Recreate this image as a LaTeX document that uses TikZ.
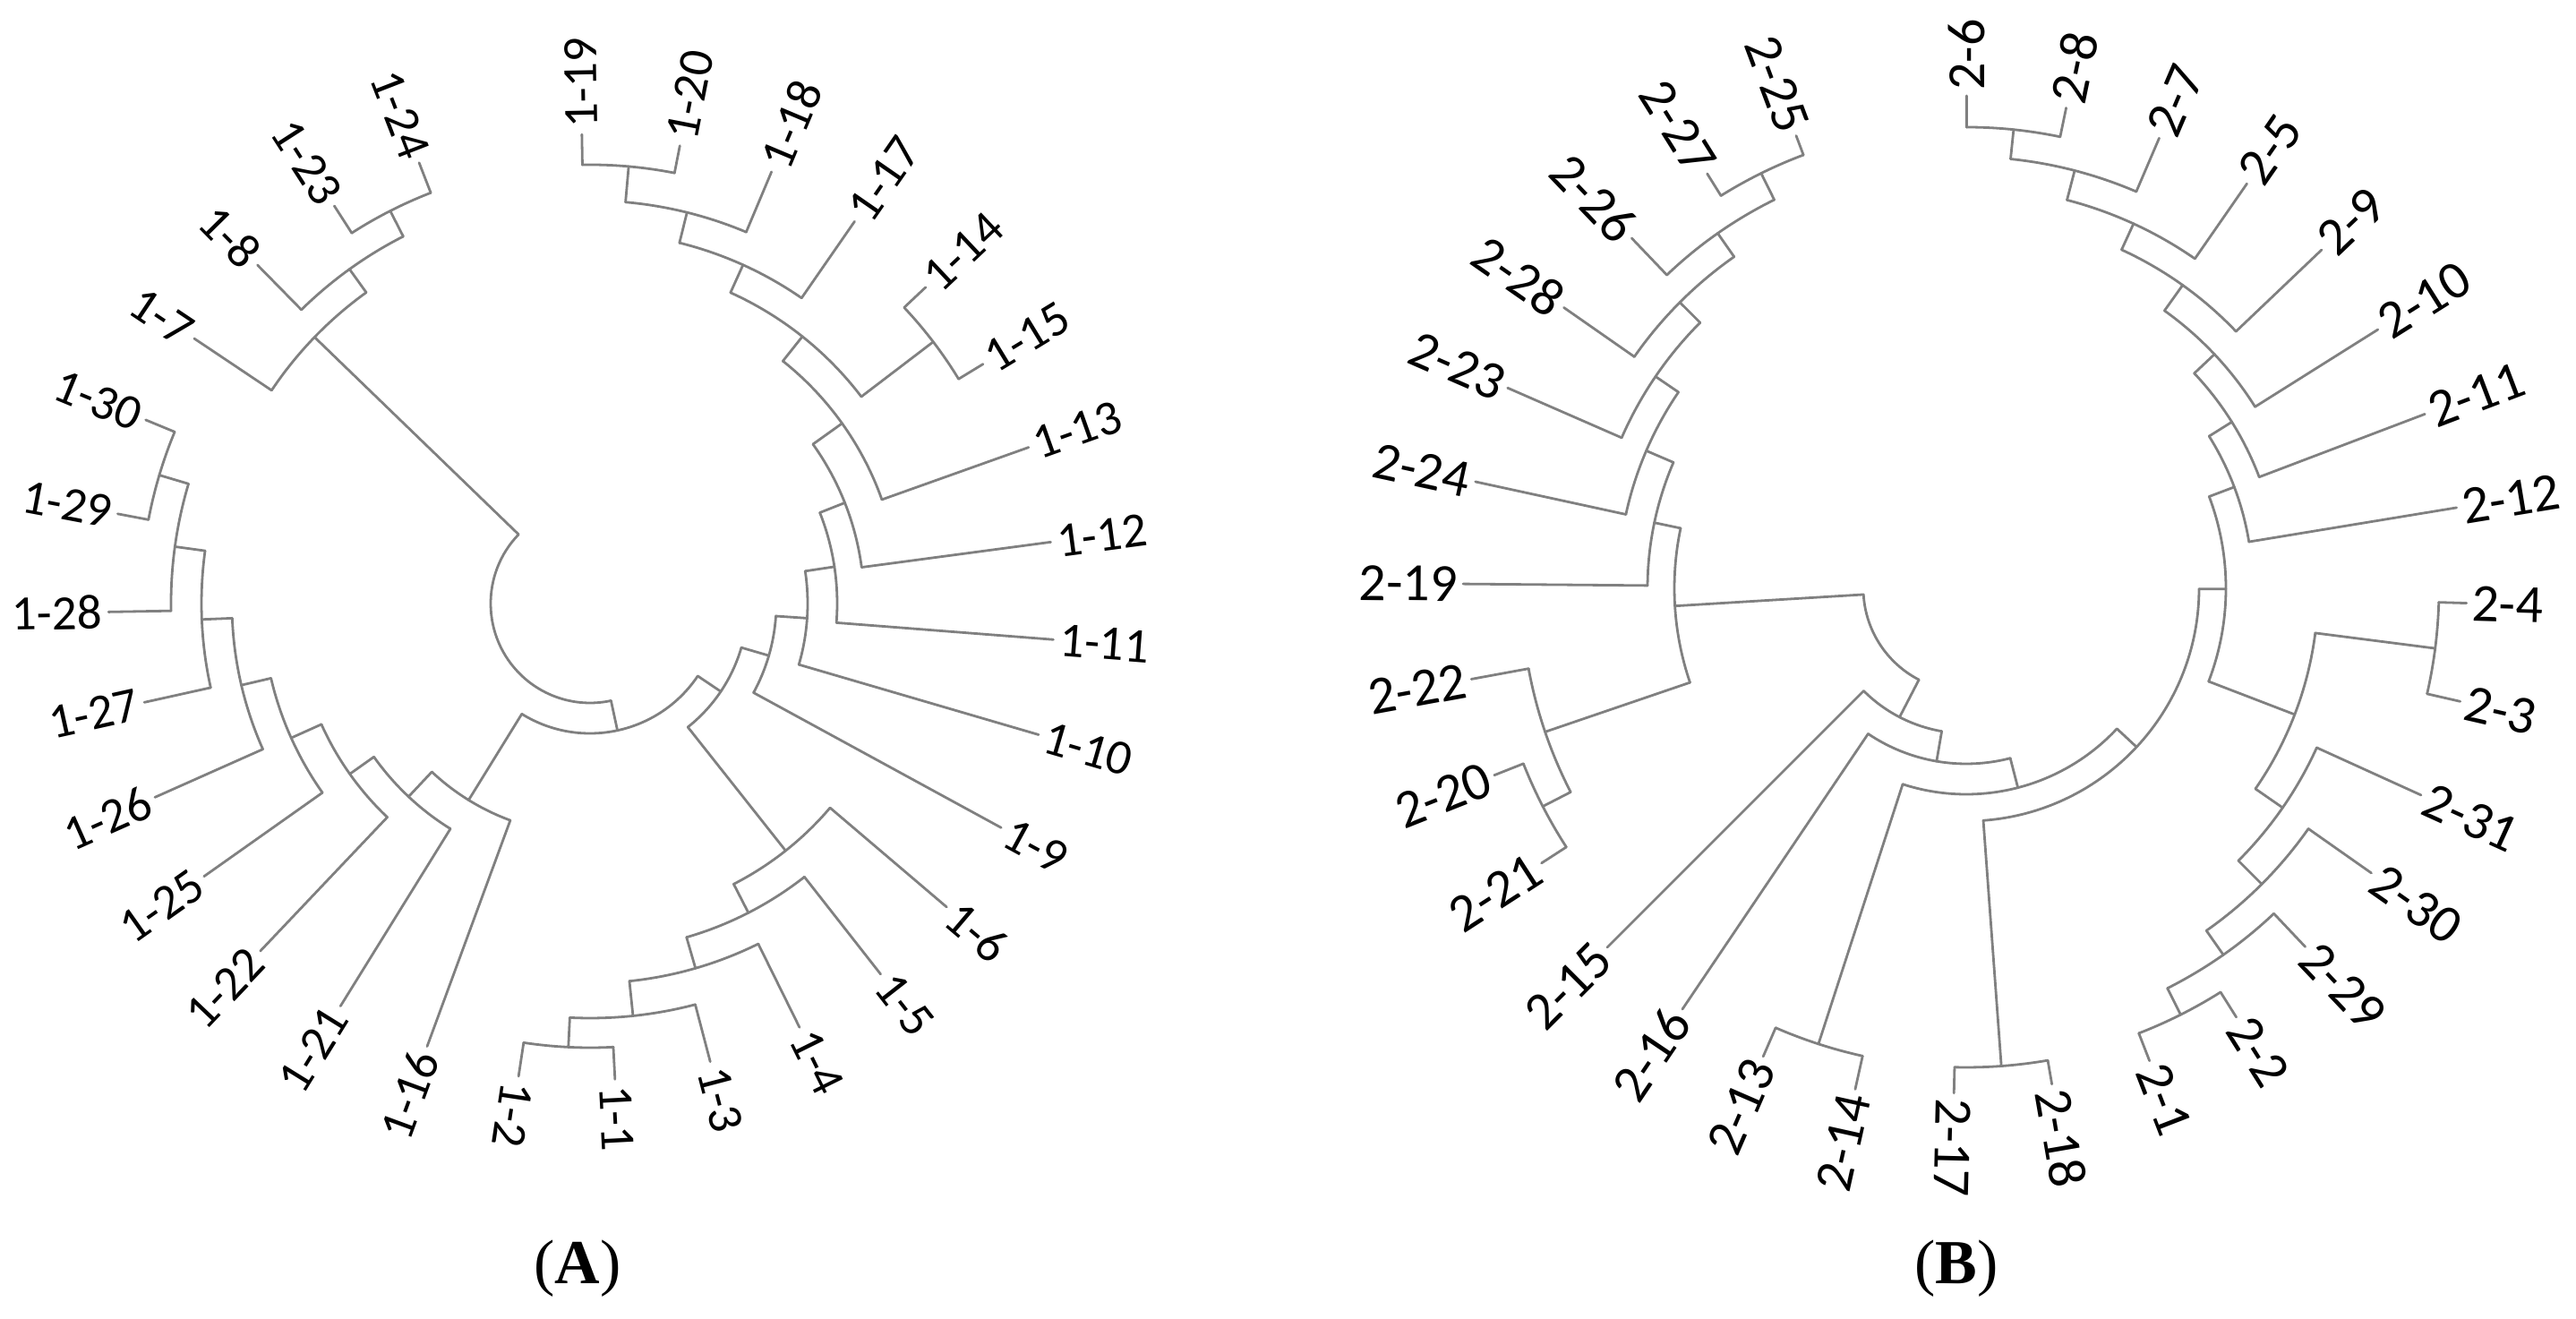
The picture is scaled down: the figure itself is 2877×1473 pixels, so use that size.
\documentclass[tikz,border=0pt]{standalone}
\usepackage{fontspec}
\setmainfont{Liberation Serif}
\newfontfamily\lblfont{Carlito}
\newcommand\setang[2]{\expandafter\xdef\csname dgx#1\endcsname{#2}}
\newcommand\getang[1]{\csname dgx#1\endcsname}
% leaf: name, angle, tip radius, text, side (L/R)
\newcommand\lf[5]{%
  \setang{#1}{#2}%
  \coordinate (#1) at (#2:#3);%
  \node[lbl, lbl#5=#2] (#1t) at (#1) {#4};%
}
% clade: name, radius, child1, child2
\newcommand\cl[4]{%
  \pgfmathsetmacro\dgA{\getang{#3}}%
  \pgfmathsetmacro\dgB{\getang{#4}}%
  \pgfmathsetmacro\dgM{(\dgA+\dgB)/2}%
  \setang{#1}{\dgM}%
  \coordinate (#1) at (\dgM:#2);%
  \coordinate (#3b) at (\dgA:#2);%
  \coordinate (#4b) at (\dgB:#2);%
  \draw[br] (#3b) -- (#3);%
  \draw[br] (#4b) -- (#4);%
  \draw[br] (#3b) arc[start angle=\dgA, end angle=\dgB, radius=#2];%
}
\begin{document}
\begin{tikzpicture}[x=0.5pt,y=0.5pt,
  br/.style={draw=black!50, line width=1.4pt, line cap=round, line join=round},
  lblR/.style={anchor=west, rotate=#1},
  lblL/.style={anchor=east, rotate=#1+180},
  captxt/.style={anchor=base, font=\fontsize{35}{40}\selectfont, inner sep=0pt}]
\fill[white] (0,0) rectangle (2877,1473);
\useasboundingbox (0,0) rectangle (2877,1473);

% ---------------- Tree A ----------------
\begin{scope}[shift={(659,799)}, lbl/.style={font=\lblfont\fontsize{27.5}{27.5}\selectfont, inner sep=3.5pt, text=black}]
\lf{a24}{111.2}{528}{1-24}{L}
\lf{a23}{122.75}{528}{1-23}{L}
\lf{a8}{134.5}{530}{1-8}{L}
\lf{a7}{146.2}{532}{1-7}{L}
\lf{a30}{157.55}{537}{1-30}{L}
\lf{a29}{169.25}{537}{1-29}{L}
\lf{a28}{181}{538}{1-28}{L}
\lf{a27}{192.5}{510}{1-27}{L}
\lf{a26}{204}{532}{1-26}{L}
\lf{a25}{215.25}{528}{1-25}{L}
\lf{a22}{226.5}{535}{1-22}{L}
\lf{a21}{238.2}{529}{1-21}{L}
\lf{a16}{249.8}{527}{1-16}{L}
\lf{a2}{261.4}{534}{1-2}{R}
\lf{a1}{273}{532}{1-1}{R}
\lf{a3}{284.7}{529}{1-3}{R}
\lf{a4}{296.3}{528}{1-4}{R}
\lf{a5}{308.1}{526}{1-5}{R}
\lf{a6}{319.6}{523}{1-6}{R}
\lf{a9}{331.4}{523}{1-9}{R}
\lf{a10}{343.7}{522}{1-10}{R}
\lf{a11}{355.55}{519}{1-11}{R}
\lf{a12}{367.6}{519}{1-12}{R}
\lf{a13}{379.6}{520}{1-13}{R}
\lf{a15}{391.35}{514}{1-15}{R}
\lf{a14}{403.3}{515}{1-14}{R}
\lf{a17}{415.3}{519}{1-17}{R}
\lf{a18}{427.2}{523}{1-18}{R}
\lf{a20}{438.9}{521}{1-20}{R}
\lf{a19}{451}{524}{1-19}{R}
\cl{aK23}{492}{a23}{a24}
\cl{aK8}{460}{a8}{aK23}
\cl{aK7}{428}{a7}{aK8}
\cl{aM29}{502}{a29}{a30}
\cl{aM28}{468}{a28}{aM29}
\cl{aM27}{434}{a27}{aM28}
\cl{aM26}{400}{a26}{aM27}
\cl{aM25}{366}{a25}{aM26}
\cl{aM22}{329}{a22}{aM25}
\cl{aM21}{296}{a21}{aM22}
\cl{aM16}{258}{a16}{aM21}
\cl{aW}{496}{a1}{a2}
\cl{aV}{463}{a3}{aW}
\cl{aU}{424}{a4}{aV}
\cl{aT}{388}{a5}{aU}
\cl{aS}{352}{a6}{aT}
\cl{aN19}{490}{a19}{a20}
\cl{aN18}{450}{a18}{aN19}
\cl{aN17}{415}{a17}{aN18}
\cl{aN1415}{482}{a14}{a15}
\cl{aN14}{381}{aN1415}{aN17}
\cl{aN13}{346}{a13}{aN14}
\cl{aN12}{306}{a12}{aN13}
\cl{aN11}{276}{a11}{aN12}
\cl{aN10}{243}{a10}{aN11}
\cl{aN9}{208}{a9}{aN10}
\cl{aR}{176}{aN9}{aS}
\cl{aP}{145}{aM16}{aR}
\cl{aRoot}{111}{aK7}{aP}
\end{scope}

% ---------------- Tree B ----------------
\begin{scope}[shift={(2196,816)}, lbl/.style={font=\lblfont\fontsize{30}{30}\selectfont, inner sep=3pt, text=black}]
\lf{b25}{110.6}{540}{2-25}{L}
\lf{b27}{122}{546}{2-27}{L}
\lf{b26}{133.7}{541}{2-26}{L}
\lf{b28}{145.1}{548}{2-28}{L}
\lf{b23}{156.4}{559}{2-23}{L}
\lf{b24}{167.75}{561}{2-24}{L}
\lf{b19}{179.5}{562}{2-19}{L}
\lf{b22}{190.4}{562}{2-22}{L}
\lf{b20}{201.6}{567}{2-20}{L}
\lf{b21}{212.9}{565}{2-21}{L}
\lf{b15}{225}{567}{2-15}{L}
\lf{b16}{236}{567}{2-16}{L}
\lf{b13}{246.55}{570}{2-13}{L}
\lf{b14}{257.5}{573}{2-14}{L}
\lf{b17}{268.6}{564}{2-17}{R}
\lf{b18}{279.8}{562}{2-18}{R}
\lf{b1}{291.2}{566}{2-1}{R}
\lf{b2}{302.2}{566}{2-2}{R}
\lf{b29}{313.4}{551}{2-29}{R}
\lf{b30}{324.9}{553}{2-30}{R}
\lf{b31}{335.55}{558}{2-31}{R}
\lf{b3}{347.1}{566}{2-3}{R}
\lf{b4}{358.3}{559}{2-4}{R}
\lf{b12}{369.34}{555}{2-12}{R}
\lf{b11}{380.8}{548}{2-11}{R}
\lf{b10}{392.15}{543}{2-10}{R}
\lf{b9}{403.6}{548}{2-9}{R}
\lf{b5}{415.25}{550}{2-5}{R}
\lf{b7}{426.8}{547}{2-7}{R}
\lf{b8}{438.25}{548}{2-8}{R}
\lf{b6}{449.96}{550}{2-6}{R}
\cl{bQ7}{515}{b6}{b8}
\cl{bQ6}{482}{b7}{bQ7}
\cl{bQ5}{448}{b5}{bQ6}
\cl{bQ4}{416}{b9}{bQ5}
\cl{bQ3}{381}{b10}{bQ4}
\cl{bQ2}{350}{b11}{bQ3}
\cl{bQ}{320}{b12}{bQ2}
\cl{bZ3}{533}{b1}{b2}
\cl{bZ2}{500}{b29}{bZ3}
\cl{bZ}{467}{b30}{bZ2}
\cl{bY}{430}{b31}{bZ}
\cl{bX34}{528}{b3}{b4}
\cl{bX}{393}{bX34}{bY}
\cl{bO}{290}{bX}{bQ}
\cl{bN1718}{535}{b17}{b18}
\cl{bI}{260}{bN1718}{bO}
\cl{bN1314}{535}{b13}{b14}
\cl{bJ}{230}{bN1314}{bI}
\cl{bK}{196}{b16}{bJ}
\cl{bL}{162}{b15}{bK}
\cl{bG20}{532}{b20}{b21}
\cl{bG22}{497}{b22}{bG20}
\cl{bG25}{517}{b25}{b27}
\cl{bG26}{484}{b26}{bG25}
\cl{bG28}{452}{b28}{bG26}
\cl{bG23}{420}{b23}{bG28}
\cl{bG24}{389}{b24}{bG23}
\cl{bG19}{356}{b19}{bG24}
\cl{bG}{326}{bG19}{bG22}
\cl{bRoot}{115}{bG}{bL}
\end{scope}

% captions
\node[captxt] (capA) at (645,39) {(\textbf{A})};
\node[captxt] (capB) at (2185,39) {(\textbf{B})};
\end{tikzpicture}
\end{document}
